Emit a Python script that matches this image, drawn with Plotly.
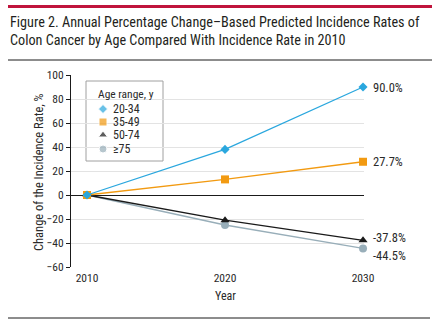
import plotly.graph_objects as go

# ---- data ----
years = [2010, 2020, 2030]
age_groups = ["20-34", "35-49", "50-74", "≥75"]
change_20_34 = [0, 38, 90.0]
change_35_49 = [0, 13, 27.7]
change_50_74 = [0, -21, -37.8]
change_75_plus = [0, -25, -44.5]
end_labels = ["90.0%", "27.7%", "-37.8%", "-44.5%"]
y_tick_vals = [-60, -40, -20, 0, 20, 40, 60, 80, 100]
x_tick_vals = [2010, 2020, 2030]

series = [change_20_34, change_35_49, change_50_74, change_75_plus]
colors = ["#2AA7DE", "#F29A11", "#1A1A1A", "#98AEB9"]
symbols = ["diamond", "square", "triangle-up", "circle"]
sizes = [7, 8, 8, 8]
label_shift = [0, 0, 3, -7]

W, H = 434, 332
L, R, T, B = 71, 70, 75, 65
PW, PH = W - L - R, H - T - B


def px(x):
    return (x - L) / PW


def py(y):
    return (H - B - y) / PH


FONT = "Liberation Sans Narrow, Roboto Condensed, Roboto, sans-serif"
TXT = "#2a2a2a"

fig = go.Figure()

order = [3, 2, 1, 0]
for i in order:
    fig.add_trace(go.Scatter(
        x=years, y=series[i], mode="lines+markers", name=age_groups[i],
        line=dict(color=colors[i], width=1.3),
        marker=dict(symbol=symbols[i], size=sizes[i], color=colors[i]),
        showlegend=False, cliponaxis=False,
    ))

# end-of-line labels
for i in range(4):
    fig.add_annotation(
        x=years[-1], y=series[i][-1], xref="x", yref="y",
        text=end_labels[i], showarrow=False, xanchor="left", yanchor="middle",
        xshift=8, yshift=label_shift[i],
        font=dict(family=FONT, size=12.5, color=TXT),
    )

# ---- legend (manual box) ----
leg_x0, leg_x1, leg_y0, leg_y1 = 86, 163, 81, 161
fig.add_shape(type="rect", xref="paper", yref="paper",
              x0=px(leg_x0), x1=px(leg_x1), y0=py(leg_y1), y1=py(leg_y0),
              line=dict(color="#A0A0A0", width=1), fillcolor="white", layer="between")
fig.add_annotation(xref="paper", yref="paper", x=px(96), y=py(94),
                   text="Age range, y", showarrow=False, xanchor="left", yanchor="middle",
                   font=dict(family=FONT, size=11.5, color=TXT))
leg_rows = [109, 122, 135, 149]
fig.add_trace(go.Scatter(
    x=[103] * 4, y=leg_rows, mode="markers", xaxis="x2", yaxis="y2",
    marker=dict(symbol=symbols, size=sizes, color=colors), showlegend=False,
    hoverinfo="skip", cliponaxis=False,
))
for i, r in enumerate(leg_rows):
    fig.add_annotation(xref="paper", yref="paper", x=px(111), y=py(r),
                       text=age_groups[i], showarrow=False, xanchor="left", yanchor="middle",
                       font=dict(family=FONT, size=12, color=TXT))

# ---- title & rules ----
fig.add_shape(type="rect", xref="paper", yref="paper",
              x0=px(8), x1=px(432), y0=py(8), y1=py(5),
              line=dict(width=0), fillcolor="#C0143C")
fig.add_shape(type="line", xref="paper", yref="paper",
              x0=px(8), x1=px(432), y0=py(60), y1=py(60),
              line=dict(color="#1a1a1a", width=1))
fig.add_shape(type="line", xref="paper", yref="paper",
              x0=px(8), x1=px(430), y0=py(318), y1=py(318),
              line=dict(color="#1a1a1a", width=1))
fig.add_annotation(xref="paper", yref="paper", x=px(8), y=py(12),
                   text="Figure 2. Annual Percentage Change–Based Predicted Incidence Rates of<br>"
                        "Colon Cancer by Age Compared With Incidence Rate in 2010",
                   showarrow=False, xanchor="left", yanchor="top", align="left",
                   font=dict(family=FONT, size=14.2, color="#231F20"))

# axis titles
fig.add_annotation(xref="paper", yref="paper", x=px(38), y=py(172),
                   text="Change of the Incidence Rate, %", textangle=-90,
                   showarrow=False, xanchor="center", yanchor="middle",
                   font=dict(family=FONT, size=12.5, color=TXT))
fig.add_annotation(xref="paper", yref="paper", x=px(225), y=py(296),
                   text="Year", showarrow=False, xanchor="center", yanchor="middle",
                   font=dict(family=FONT, size=12, color=TXT))

fig.update_layout(
    width=W, height=H, margin=dict(l=L, r=R, t=T, b=B),
    paper_bgcolor="white", plot_bgcolor="white",
    xaxis=dict(range=[2008.84, 2030.07], tickvals=x_tick_vals, showgrid=False,
               showline=False, ticks="", zeroline=False, ticklabelstandoff=2,
               tickfont=dict(family=FONT, size=11.5, color=TXT)),
    yaxis=dict(range=[-60, 100], tickvals=y_tick_vals, showgrid=True,
               gridcolor="#E3E3E3", gridwidth=1, zeroline=True, zerolinecolor="#1a1a1a",
               zerolinewidth=1, showline=True, linecolor="#1a1a1a", linewidth=1,
               ticks="outside", ticklen=4, tickcolor="#1a1a1a",
               tickfont=dict(family=FONT, size=11.5, color=TXT)),
    xaxis2=dict(domain=[0, 1], range=[L, W - R], visible=False, overlaying="x"),
    yaxis2=dict(domain=[0, 1], range=[H - B, T], visible=False, overlaying="y"),
    showlegend=False,
)

fig.write_html("out.html")
